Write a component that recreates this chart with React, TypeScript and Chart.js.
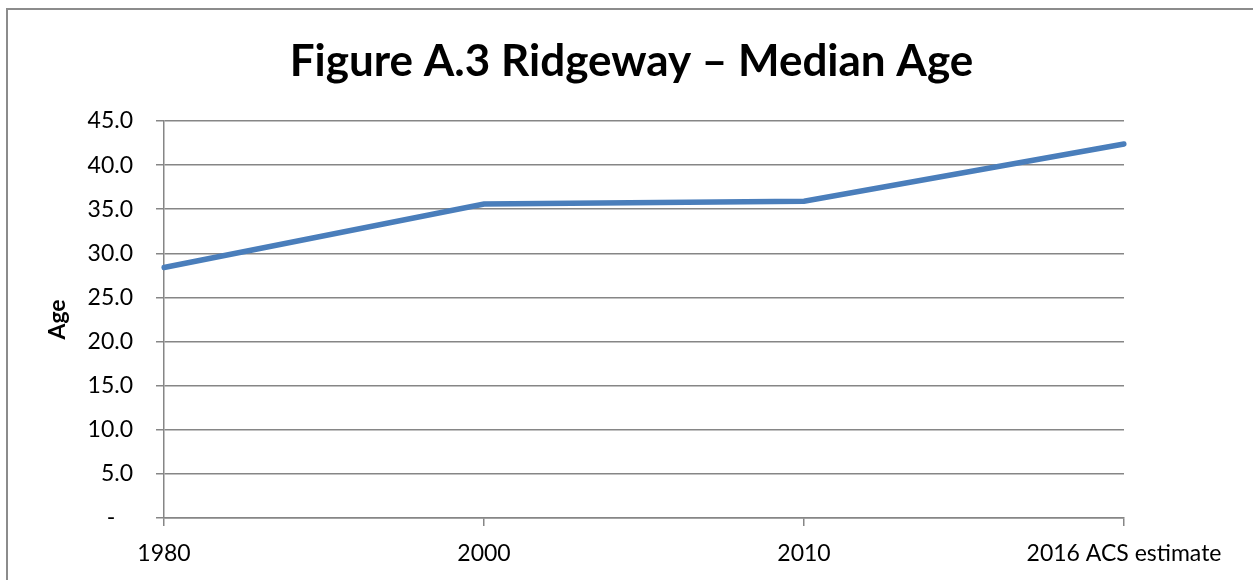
import React, { useEffect, useRef } from "react";
import { Chart, registerables } from "chart.js";

Chart.register(...registerables);

const categories: string[] = ["1980", "2000", "2010", "2016 ACS estimate"];
const medianAge: number[] = [28.4, 35.6, 35.9, 42.4];
const chartTitle = "Figure A.3 Ridgeway \u2013 Median Age";
const yAxisTitle = "Age";
const yMin = 0;
const yMax = 45;
const yStep = 5;
const zeroTickLabel = "-   ";

const pageTitlePlugin = {
  id: "pageTitle",
  afterDraw(chart: any) {
    const ctx = chart.ctx;
    ctx.save();
    ctx.font = "bold 44px Lato";
    ctx.fillStyle = "#000000";
    ctx.textAlign = "center";
    ctx.textBaseline = "middle";
    ctx.fillText(chartTitle, chart.width / 2 + 5, 62);
    ctx.restore();
  },
};

export default function App() {
  const ref = useRef<HTMLCanvasElement>(null);

  useEffect(() => {
    if (!ref.current) return;
    const grey = "#868686";
    const chart = new Chart(ref.current, {
      type: "line",
      data: {
        labels: categories,
        datasets: [
          {
            data: medianAge,
            borderColor: "#4a7ebb",
            backgroundColor: "#4a7ebb",
            borderWidth: 5.5,
            borderCapStyle: "round",
            pointRadius: 0,
            pointHoverRadius: 0,
            tension: 0,
            fill: false,
          },
        ],
      },
      plugins: [pageTitlePlugin],
      options: {
        responsive: false,
        animation: false,
        layout: { padding: { top: 121, right: 129, bottom: 0, left: 0 } },
        plugins: {
          legend: { display: false },
          tooltip: { enabled: false },
          title: { display: false },
        },
        scales: {
          x: {
            type: "category",
            offset: false,
            grid: {
              display: true,
              drawOnChartArea: false,
              drawTicks: true,
              tickLength: 8,
              color: grey,
              lineWidth: 1.5,
            },
            border: { display: true, color: grey, width: 1.5 },
            ticks: {
              color: "#000000",
              font: { family: "Lato", size: 23 },
              padding: 14,
              maxRotation: 0,
              autoSkip: false,
            },
            afterFit: (s: any) => {
              s.height = 62;
            },
          },
          y: {
            min: yMin,
            max: yMax,
            grid: {
              display: true,
              drawTicks: true,
              tickLength: 8,
              color: grey,
              lineWidth: 1.5,
            },
            border: { display: true, color: grey, width: 1.5 },
            ticks: {
              stepSize: yStep,
              color: "#000000",
              font: { family: "Lato", size: 23 },
              padding: 23,
              callback: (v: any) => (Number(v) === 0 ? zeroTickLabel : Number(v).toFixed(1)),
            },
            title: {
              display: true,
              text: yAxisTitle,
              color: "#000000",
              font: { family: "Lato", size: 23, weight: "bold", lineHeight: 1.2 },
              padding: { top: 44.2, bottom: 0 },
            },
            afterFit: (s: any) => {
              s.width = 164;
            },
          },
        },
      },
    });
    return () => chart.destroy();
  }, []);

  return (
    <div style={{ position: "absolute", left: 0, top: 0, width: 1253, height: 580, overflow: "hidden", background: "#ffffff" }}>
      <div
        style={{
          position: "absolute",
          left: 6,
          top: 8,
          width: 1300,
          height: 700,
          border: "2px solid #8c8c8c",
          boxSizing: "border-box",
        }}
      />
      <canvas
        ref={ref}
        width={1253}
        height={580}
        style={{ position: "absolute", left: 0, top: 0, display: "block" }}
      />
    </div>
  );
}
